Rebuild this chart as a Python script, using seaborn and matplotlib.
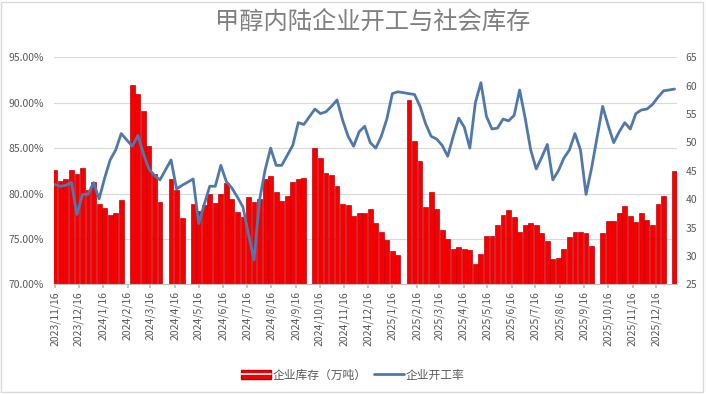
import numpy as np
import pandas as pd
import seaborn as sns
import matplotlib.pyplot as plt
from matplotlib.ticker import FuncFormatter
from matplotlib.patches import Patch, Rectangle
from matplotlib.lines import Line2D
from matplotlib.legend_handler import HandlerTuple

# === Data (weekly, from 2023/11/16; NaN = holiday week, no report) ===
nan = np.nan
start = "2023-11-16"

# 企业库存（万吨） - right axis
inventory = [
    45.1, 43.2, 43.6, 45.1, 44.5, 45.5, 41.6, 43.0, 39.1, 38.5,
    37.3, 37.6, 39.9, nan, 60.1, 58.5, 55.5, 49.3, 44.5, 39.5,
    nan, 43.6, 41.6, 36.6, nan, 39.1, 37.9, 38.9, 40.9, 39.3,
    41.0, 42.9, 40.0, 37.8, 36.9, 40.4, 39.5, 40.1, 43.6, 44.0,
    41.2, 39.6, 40.6, 43.0, 43.6, 43.8, nan, 49.1, 47.2, 44.7,
    44.3, 42.3, 39.2, 38.9, 37.0, 37.6, 37.6, 38.2, 35.8, 34.3,
    32.8, 30.9, 30.1, nan, 57.5, 50.2, 46.7, 38.6, 41.2, 38.3,
    34.6, 32.9, 31.3, 31.5, 31.3, 31.1, 28.5, 30.4, 33.6, 33.6,
    35.5, 37.2, 38.1, 36.8, 34.2, 35.4, 35.8, 35.4, 34.1, 32.6,
    29.5, 29.7, 31.3, 33.3, 34.2, 34.2, 34.1, 31.7, nan, 34.1,
    36.1, 36.1, 37.6, 38.8, 37.0, 36.0, 37.6, 36.3, 35.4, 39.2,
    40.5, nan, 44.9,
]

# 企业开工率 (%) - left axis
rate = [
    81.0, 80.8, 80.9, 81.2, 77.7, 79.9, 79.9, 81.2, 79.4, 81.7,
    83.7, 84.8, 86.6, nan, 85.2, 86.4, 84.4, 82.7, 82.0, 81.5,
    nan, 83.7, 80.5, 80.9, nan, 81.6, 76.7, 78.8, 80.8, 80.8,
    83.1, 81.3, 80.6, 79.6, 78.5, 75.5, 72.7, 79.3, 82.6, 85.0,
    83.1, 83.1, 84.2, 85.3, 87.8, 87.6, nan, 89.3, 88.8, 89.0,
    89.6, 90.3, 88.1, 86.3, 85.2, 86.8, 87.4, 85.6, 85.0, 86.3,
    88.2, 91.0, 91.2, nan, 91.0, 90.9, 89.6, 87.7, 86.3, 86.0,
    85.3, 84.1, 86.3, 88.3, 87.3, 85.0, 90.0, 92.2, 88.5, 87.1,
    87.2, 88.2, 88.0, 88.6, 91.4, 88.3, 84.8, 82.7, 84.0, 85.4,
    81.5, 82.5, 83.9, 84.8, 86.6, 84.8, 79.9, 82.8, nan, 89.6,
    87.5, 85.6, 86.8, 87.8, 87.1, 88.8, 89.2, 89.3, 89.8, 90.6,
    91.3, nan, 91.5,
]

weeks = pd.date_range(start, periods=len(inventory), freq="7D")
tick_dates = pd.date_range("2023-11-01", "2025-12-01", freq="MS") + pd.Timedelta(days=15)

df = pd.DataFrame({
    "week": (weeks - pd.Timestamp(start)).days / 7,
    "库存": inventory,
    "开工率": rate,
})

bar_color = "#f40000"
bar_edge = "#c4000a"
line_color = "#5079ab"
text_color = "#595959"
grid_color = "#d9d9d9"

# === Plot ===
sns.set_theme(style="white")
plt.rcParams["font.family"] = ["Noto Sans CJK SC", "DejaVu Sans"]

fig, ax = plt.subplots(figsize=(7.06, 3.94), dpi=100)
fig.subplots_adjust(left=0.0765, right=0.959, top=0.8546, bottom=0.2784)
ax2 = ax.twinx()

# bars on right axis
sns.barplot(data=df.dropna(subset=["库存"]), x="week", y="库存", native_scale=True,
            orient="x", width=0.88, color=bar_color, saturation=1,
            edgecolor=bar_edge, linewidth=0.5, errorbar=None, ax=ax2)

# gridlines follow the left (percent) ticks, drawn behind the bars
left_ticks = np.arange(70, 96, 5)
for t in left_ticks:
    ax2.axhline(25 + (t - 70) * 40 / 25, color=grid_color, lw=0.8, zorder=0)

# line on left axis, kept on top of the bars
sns.lineplot(data=df.dropna(subset=["开工率"]), x="week", y="开工率",
             color=line_color, linewidth=2.0, ax=ax)
ax.set_zorder(ax2.get_zorder() + 1)
ax.patch.set_visible(False)

ax.set_xlim(-0.15, 112.45)
ax.set_ylim(70, 95)
ax2.set_ylim(25, 65.001)

ax.set_yticks(left_ticks)
ax.yaxis.set_major_formatter(FuncFormatter(lambda v, p: f"{v:.2f}%"))
ax2.set_yticks(range(25, 66, 5))
ax2.yaxis.set_major_formatter(FuncFormatter(lambda v, p: f"{v:.0f}"))

tick_pos = (tick_dates - pd.Timestamp(start)).days / 7
ax.set_xticks(tick_pos)
ax.set_xticklabels([f"{d.year}/{d.month}/{d.day}" for d in tick_dates], rotation=90)

ax.tick_params(axis="x", bottom=True, length=3, color="#bfbfbf", labelsize=7.5,
               labelcolor=text_color, pad=2)
ax.tick_params(axis="y", length=0, labelsize=7.5, labelcolor=text_color, pad=7)
ax2.tick_params(axis="y", length=0, labelsize=7.5, labelcolor=text_color, pad=6)

for a in (ax, ax2):
    a.set_xlabel("")
    a.set_ylabel("")
    for s in ("left", "right", "top"):
        a.spines[s].set_visible(False)
ax2.spines["bottom"].set_visible(False)
ax.spines["bottom"].set_color("#bfbfbf")
ax.spines["bottom"].set_linewidth(0.8)

fig.text(0.528, 0.944, "甲醇内陆企业开工与社会库存", ha="center", va="center",
         fontsize=17.5, color="#808080")

handles = [
    (Patch(facecolor=bar_color, edgecolor=bar_edge), Line2D([], [], color="white", lw=1.2)),
    Line2D([], [], color=line_color, lw=2.0),
]
fig.legend(handles, ["企业库存（万吨）", "企业开工率"], loc="center",
           bbox_to_anchor=(0.5, 0.048), ncol=2, frameon=False, fontsize=8.5,
           labelcolor=text_color, handlelength=2.5, handletextpad=0.2,
           columnspacing=0.6, handler_map={tuple: HandlerTuple(ndivide=1)})

fig.patches.append(Rectangle((0.002, 0.004), 0.994, 0.992, transform=fig.transFigure,
                             fill=False, edgecolor=grid_color, lw=1))

fig.savefig("out.png", dpi=100)
